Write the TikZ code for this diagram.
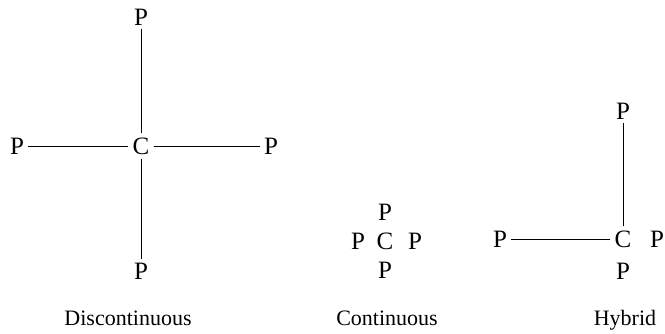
\documentclass[tikz,border=0pt]{standalone}
\usepackage{fontspec}
\setmainfont{Liberation Serif}
\begin{document}
\begin{tikzpicture}[x=1pt, y=-1pt,
atom/.style={inner sep=4pt, font={\fontsize{25}{25}\selectfont}},
caption/.style={inner sep=0pt, anchor=base, font={\fontsize{22}{22}\selectfont}}]

\useasboundingbox (0,0) rectangle (665,334);

% discontinuous
\node [atom] (c1) at (141,146) {C};
\node [atom] (n1) at (141,17) {P};
\node [atom] (w1) at (17,146) {P};
\node [atom] (e1) at (271,146) {P};
\node [atom] (s1) at (141,271) {P};

\draw (c1) -- (n1);
\draw (c1) -- (w1);
\draw (c1) -- (e1);
\draw (c1) -- (s1);

% continuous
\node [atom] (c2) at (385,241) {C};
\node [atom] (n2) at (385,212) {P};
\node [atom] (w2) at (358,241) {P};
\node [atom] (e2) at (415,241) {P};
\node [atom] (s2) at (385,270) {P};

% hybrid
\node [atom] (c3) at (623,239) {C};
\node [atom] (n3) at (623,111) {P};
\node [atom] (w3) at (500,239) {P};
\node [atom] (e3) at (657,239) {P};
\node [atom] (s3) at (623,271) {P};

\draw (c3) -- (n3);
\draw (c3) -- (w3);

\node [caption] (l1) at (128,325) {Discontinuous};
\node [caption] (l2) at (387,325) {Continuous};
\node [caption] (l3) at (625,325) {Hybrid};

\end{tikzpicture}
\end{document}
